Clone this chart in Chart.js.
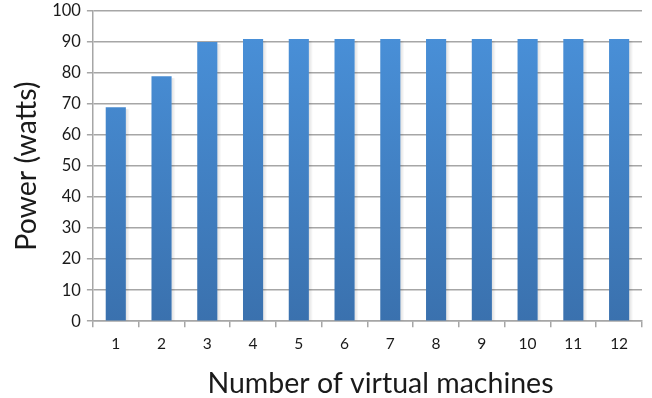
<!DOCTYPE html>
<html>
<head>
<meta charset="utf-8">
<script src="https://cdn.jsdelivr.net/npm/chart.js@4"></script>
<style>
  html, body { margin: 0; padding: 0; background: #fff; }
  #wrap { width: 652px; height: 398px; }
</style>
</head>
<body>
<div id="wrap"><canvas id="c" width="652" height="398"></canvas></div>
<script>
const vmCounts = ['1','2','3','4','5','6','7','8','9','10','11','12'];
const powerWatts = [69, 79, 90, 91, 91, 91, 91, 91, 91, 91, 91, 91];
const yTicks = [0, 10, 20, 30, 40, 50, 60, 70, 80, 90, 100];
const xTitle = 'Number of virtual machines';
const yTitle = 'Power (watts)';

const FONT = 'Lato, "Open Sans", sans-serif';
const GRID = '#a6a6a6';
const TEXT = '#1a1a1a';

function barGradient(ctx) {
  const chart = ctx.chart;
  const area = chart.chartArea;
  if (!area) return '#4a8fd6';
  const g = chart.ctx.createLinearGradient(0, area.top, 0, area.bottom);
  g.addColorStop(0, '#4a92db');
  g.addColorStop(1, '#3a71ae');
  return g;
}

// soft shadow to the right of each bar
const barShadow = {
  id: 'barShadow',
  beforeDatasetsDraw(chart) {
    const c = chart.ctx;
    const meta = chart.getDatasetMeta(0);
    c.save();
    meta.data.forEach(bar => {
      const w = bar.width;
      const x = bar.x + w / 2;
      const g = c.createLinearGradient(x, 0, x + 4, 0);
      g.addColorStop(0, 'rgba(0,0,0,0.12)');
      g.addColorStop(1, 'rgba(0,0,0,0)');
      c.fillStyle = g;
      c.fillRect(x, bar.y + 2, 4, bar.base - bar.y - 2);
    });
    c.restore();
  }
};

// x-axis title, set a little right of the plot centre
const xTitleDraw = {
  id: 'xTitleDraw',
  afterDraw(chart) {
    const c = chart.ctx;
    const a = chart.chartArea;
    const xs = chart.scales.x;
    c.save();
    c.fillStyle = TEXT;
    c.font = '28.5px ' + FONT;
    c.textAlign = 'center';
    c.textBaseline = 'bottom';
    c.fillText(xTitle, (a.left + a.right) / 2 + 13, xs.bottom);
    c.restore();
  }
};

new Chart(document.getElementById('c'), {
  type: 'bar',
  data: {
    labels: vmCounts,
    datasets: [{
      data: powerWatts,
      backgroundColor: barGradient,
      borderWidth: 0,
      categoryPercentage: 1,
      barPercentage: 0.44
    }]
  },
  plugins: [barShadow, xTitleDraw],
  options: {
    responsive: false,
    animation: false,
    devicePixelRatio: 1,
    layout: { padding: { left: 10, right: 10, top: 0, bottom: 0 } },
    plugins: { legend: { display: false }, tooltip: { enabled: false } },
    scales: {
      x: {
        offset: true,
        grid: {
          offset: true,
          drawOnChartArea: false,
          drawTicks: true,
          tickLength: 6,
          color: GRID,
          lineWidth: 1.5
        },
        border: { color: GRID, width: 1.5 },
        ticks: { color: TEXT, font: { family: FONT, size: 15.5 }, padding: 7 },
        title: {
          // reserves the space; the text itself is drawn by xTitleDraw
          display: true,
          text: xTitle,
          color: 'rgba(0,0,0,0)',
          font: { family: FONT, size: 28.5 },
          padding: { top: 4, bottom: 0 }
        }
      },
      y: {
        min: 0,
        max: 100,
        afterBuildTicks(scale) { scale.ticks = yTicks.map(v => ({ value: v })); },
        afterFit(scale) { scale.paddingTop = 11; },
        grid: { color: GRID, lineWidth: 1.5, tickLength: 6 },
        border: { color: GRID, width: 1.5 },
        ticks: { color: TEXT, font: { family: FONT, size: 16.5 }, padding: 6 },
        title: {
          display: true,
          text: yTitle,
          color: TEXT,
          font: { family: FONT, size: 28.5 },
          padding: { top: 0, bottom: 2 }
        }
      }
    }
  }
});
</script>
</body>
</html>
